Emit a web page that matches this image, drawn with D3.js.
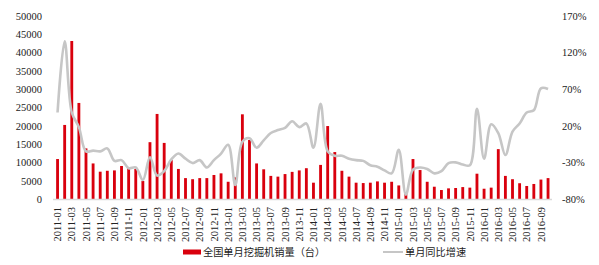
<!DOCTYPE html>
<html><head><meta charset="utf-8">
<script src="https://cdn.jsdelivr.net/npm/d3@7"></script>
<style>body{margin:0;background:#fff}svg{display:block}</style>
</head><body>
<svg id="c" width="599" height="265"></svg>
<script>
const years = [2011,2012,2013,2014,2015,2016];
const months = [];
years.forEach(y => { for (let m = 1; m <= 12; m++) { if (y === 2016 && m > 10) break; months.push(y + "-" + String(m).padStart(2,"0")); } });
const sales = [
 10900,20200,43100,26200,13800,9700,7450,7700,7800,9000,8400,8200,
 4900,15500,23200,15300,10600,8200,5700,5400,5700,5700,6550,7000,
 4700,5900,23100,16100,9700,8100,6300,6100,6800,7400,7800,8400,
 4450,9300,19900,12800,7700,6100,4450,4350,4450,4800,4450,4700,
 3700,1800,10900,7900,4700,3350,2450,2900,3000,3250,3100,6900,
 2800,3100,13600,6300,5400,4300,3550,4100,5300,5700
];
const growth = [
 38,135,38,18,-15,-14,-15,-11,-28,-27,-38,-37,
 -54,-23,-48,-42,-26,-18,-25,-31,-27,-37,-27,-18,
 -6,-61,-2,3,-10,0,10,14,17,26,18,23,
 -10,50,-15,-21,-21,-25,-27,-28,-34,-36,-41,-45,
 -13,-74,-40,-37,-39,-45,-42,-31,-30,-33,-34,43,
 -25,22,10,-20,12,23,38,41,71,70
];
const leftTicks = [0,5000,10000,15000,20000,25000,30000,35000,40000,45000,50000];
const rightTicks = [-80,-30,20,70,120,170];
const labelMonths = months.filter((d,i) => i % 2 === 0);
const legendBar = "全国单月挖掘机销量（台）";
const legendLine = "单月同比增速";

(function(){
const svg = d3.select("#c");
const plotTop = 15.7, plotBottom = 199;
const x = d3.scaleBand().domain(months).range([54, 551.6]).paddingInner(0.6).paddingOuter(0.3);
const y = d3.scaleLinear().domain([0,50000]).range([plotBottom, plotTop]);
const y2 = d3.scaleLinear().domain([-80,170]).range([plotBottom, plotTop]);
const serif = "'Liberation Serif','Times New Roman',serif";
const cjk = "'Noto Sans CJK SC','Noto Sans',sans-serif";

svg.append("g").selectAll("rect").data(months).join("rect")
  .attr("x", d => x(d)).attr("width", x.bandwidth())
  .attr("y", (d,i) => y(sales[i])).attr("height", (d,i) => plotBottom - y(sales[i]))
  .attr("fill", "#d9000d");

svg.append("line").attr("x1", 53).attr("x2", 552).attr("y1", plotBottom + 0.5).attr("y2", plotBottom + 0.5)
  .attr("stroke", "#d9d9d9").attr("stroke-width", 1.5);

const line = d3.line().x((d,i) => x(months[i]) + x.bandwidth()/2).y(d => y2(d)).curve(d3.curveCatmullRom.alpha(0.5));
svg.append("path").datum(growth).attr("d", line).attr("fill", "none")
  .attr("stroke", "#c6c6c6").attr("stroke-width", 2.6).attr("stroke-linejoin","round");

const la = svg.append("g").attr("transform", "translate(42,0)")
  .call(d3.axisLeft(y).tickValues(leftTicks).tickSize(0).tickPadding(0).tickFormat(d3.format("d")));
la.select(".domain").remove();
la.selectAll("text").attr("font-family", serif).attr("font-size", 10.5).attr("fill", "#222");

const ra = svg.append("g").attr("transform", "translate(562,0)")
  .call(d3.axisRight(y2).tickValues(rightTicks).tickSize(0).tickPadding(0).tickFormat(d => d + "%"));
ra.select(".domain").remove();
ra.selectAll("text").attr("font-family", serif).attr("font-size", 10.5).attr("fill", "#222");

const xa = svg.append("g").attr("transform", `translate(0,${plotBottom})`)
  .call(d3.axisBottom(x).tickValues(labelMonths).tickSize(0).tickPadding(0));
xa.select(".domain").remove();
xa.selectAll("text").attr("font-family", serif).attr("font-size", 10.5).attr("fill", "#222")
  .attr("text-anchor", "end").attr("dy", "0.35em")
  .attr("transform", "translate(0,8) rotate(-90)").attr("x", 0).attr("y", 0);

const lg = svg.append("g");
lg.append("rect").attr("x", 183).attr("y", 249.5).attr("width", 18).attr("height", 5).attr("fill", "#d9000d");
lg.append("text").attr("x", 203).attr("y", 256).text(legendBar)
  .attr("font-family", cjk).attr("font-size", 10.2).attr("fill", "#222");
lg.append("line").attr("x1", 383).attr("x2", 403).attr("y1", 252).attr("y2", 252)
  .attr("stroke", "#c6c6c6").attr("stroke-width", 2);
lg.append("text").attr("x", 405).attr("y", 256).text(legendLine)
  .attr("font-family", cjk).attr("font-size", 10.2).attr("fill", "#222");
})();
</script>
</body></html>
